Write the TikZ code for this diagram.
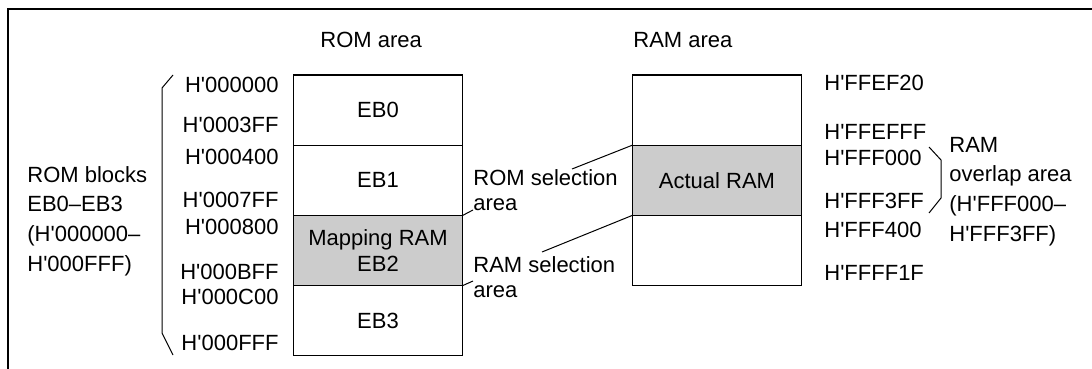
\documentclass[tikz,border=0pt]{standalone}
\usepackage{fontspec}
\setmainfont{Liberation Sans}
\usetikzlibrary{positioning}
\definecolor{memgray}{RGB}{204,204,204}
\newcommand{\hx}{H\textquotesingle}

\begin{document}
\begin{tikzpicture}[x=0.5pt, y=-0.5pt,
    font=\fontsize{11}{13.4}\selectfont,
    blk/.style={draw, line width=0.6pt, minimum width=84.7pt, minimum height=35.1pt,
        inner sep=0pt, outer sep=0pt, align=center},
    shd/.style={blk, fill=memgray},
    addr/.style={inner sep=0pt},
    lbl/.style={inner sep=0pt, align=left}]

    \useasboundingbox (0,0) rectangle (1092,369);

    % ---------- 外框 ----------
    \draw[line width=0.8pt] (8,369) -- (8,9) -- (1092,9);

    % ---------- 标题 ----------
    \node[lbl, anchor=west] (romtitle) at (320,40) {ROM area};
    \node[lbl, anchor=west] (ramtitle) at (633,40) {RAM area};

    % ---------- ROM 区块 ----------
    \node[blk, anchor=north] (eb0) at (378,75) {EB0};
    \node[blk, below=0pt of eb0] (eb1) {EB1};
    \node[shd, below=0pt of eb1] (eb2) {Mapping RAM\\[-0.4pt]EB2};
    \node[blk, below=0pt of eb2] (eb3) {EB3};

    % ---------- RAM 区块 ----------
    \node[blk, anchor=north] (ram0) at (717,75) {};
    \node[shd, below=0pt of ram0] (act) {Actual RAM};
    \node[blk, below=0pt of act] (ram2) {};

    % ---------- ROM 地址 ----------
    \foreach \y/\txt [count=\i] in {
        85/{\hx000000}, 125/{\hx0003FF}, 157/{\hx000400}, 200/{\hx0007FF},
        227/{\hx000800}, 272/{\hx000BFF}, 297/{\hx000C00}, 343/{\hx000FFF}
    }{
        \node[addr, anchor=east] (ra\i) at (279,\y) {\txt};
    }

    % ---------- RAM 地址 ----------
    \foreach \y/\txt [count=\i] in {
        83/{\hx FFEF20}, 132/{\hx FFEFFF}, 158/{\hx FFF000},
        201/{\hx FFF3FF}, 230/{\hx FFF400}, 273/{\hx FFFF1F}
    }{
        \node[addr, anchor=west] (aa\i) at (824,\y) {\txt};
    }

    % ---------- 左侧括号与说明 ----------
    \draw[line width=0.5pt] (173,75) -- (162,88) -- (162,333) -- (173,355);
    \node[lbl, anchor=west] (romblk) at (27,221)
        {ROM blocks\\[1.4pt]EB0–EB3\\[1.4pt](\hx000000–\\[1.4pt]\hx000FFF)};

    % ---------- 右侧括号与说明 ----------
    \draw[line width=0.5pt] (929,147) -- (941,160) -- (941,198) -- (929,213);
    \node[lbl, anchor=west] (ovl) at (949,191.5)
        {RAM\\[1.4pt]overlap area\\[1.4pt](\hx FFF000–\\[1.4pt]\hx FFF3FF)};

    % ---------- 选择区域标注 ----------
    \node[lbl, anchor=west] (romsel) at (473,190) {ROM selection\\[-1pt]area};
    \node[lbl, anchor=west] (ramsel) at (473,277) {RAM selection\\[-1pt]area};

    \coordinate (romtick) at (473,210);
    \coordinate (ramtick) at (473,281);
    \coordinate (romtail) at (572,169);
    \coordinate (ramtail) at (542,252);

    \draw[line width=0.5pt] (eb1.south east) -- (romtick);
    \draw[line width=0.5pt] (eb2.south east) -- (ramtick);
    \draw[line width=0.5pt] (romtail) -- (act.north west);
    \draw[line width=0.5pt] (ramtail) -- (act.south west);

\end{tikzpicture}
\end{document}
